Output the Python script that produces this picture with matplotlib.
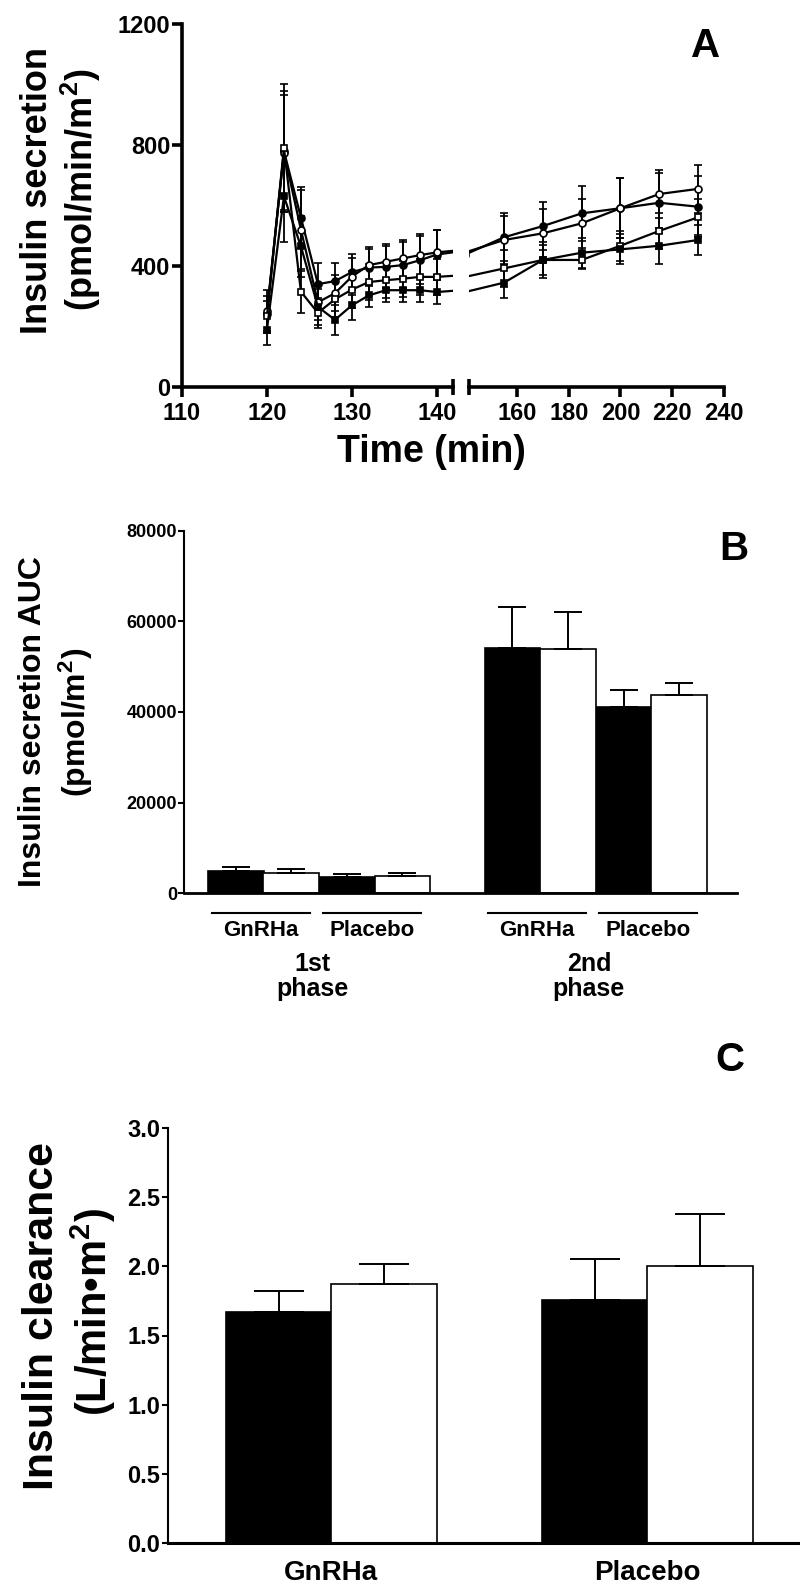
import numpy as np
import matplotlib.pyplot as plt
import matplotlib.transforms as mtransforms

plt.rcParams['font.family'] = ['Liberation Sans', 'DejaVu Sans']
plt.rcParams['font.weight'] = 'bold'
plt.rcParams['mathtext.fontset'] = 'custom'
plt.rcParams['mathtext.rm'] = 'Liberation Sans:bold'
plt.rcParams['mathtext.default'] = 'rm'

# ---- panel A: insulin secretion over time ----
time = [120, 122, 124, 126, 128, 130, 132, 134, 136, 138, 140, 155, 170, 185, 200, 215, 230]
filled_circle = [240, 780, 560, 340, 350, 380, 395, 397, 403, 419, 438, 495, 532, 574, 591, 609, 596]
filled_circle_err = [60, 200, 100, 70, 60, 60, 60, 70, 75, 80, 80, 80, 80, 90, 100, 100, 100]
open_circle = [250, 775, 520, 280, 310, 365, 403, 414, 425, 436, 445, 486, 508, 541, 591, 638, 655]
open_circle_err = [70, 190, 130, 60, 60, 60, 60, 60, 60, 70, 75, 80, 80, 80, 100, 80, 80]
open_square = [235, 790, 315, 245, 290, 322, 347, 353, 358, 364, 364, 392, 420, 420, 467, 516, 561]
open_square_err = [50, 210, 70, 50, 60, 60, 60, 60, 60, 60, 60, 60, 60, 30, 50, 60, 60]
filled_square = [190, 630, 465, 265, 222, 270, 303, 320, 320, 320, 314, 345, 420, 444, 455, 467, 486]
filled_square_err = [50, 150, 100, 60, 50, 50, 40, 40, 40, 40, 40, 50, 50, 50, 50, 60, 50]

# ---- panel B: AUC ----
group_labels = ['GnRHa', 'Placebo', 'GnRHa', 'Placebo']
phase_top = ['1st', '2nd']
phase_bottom = ['phase', 'phase']
auc_black = [4760, 3590, 54100, 41200]
auc_black_err = [880, 590, 9200, 3600]
auc_white = [4400, 3660, 54000, 43700]
auc_white_err = [800, 730, 8100, 2800]

# ---- panel C: clearance ----
clear_labels = ['GnRHa', 'Placebo']
clear_black = [1.67, 1.76]
clear_black_err = [0.15, 0.29]
clear_white = [1.87, 2.00]
clear_white_err = [0.15, 0.38]

W, H = 800, 1593
fig = plt.figure(figsize=(W / 100, H / 100), dpi=100)


def fx(px):
    return px / W


def fy(py):
    return 1 - py / H


# panel A axes (broken x axis)
axA1 = fig.add_axes([fx(182), fy(387), fx(453 - 182), (387 - 24) / H])
axA2 = fig.add_axes([fx(469), fy(387), fx(724 - 469), (387 - 24) / H])

series = [
    (filled_circle, filled_circle_err, 'o', 'black'),
    (open_circle, open_circle_err, 'o', 'white'),
    (open_square, open_square_err, 's', 'white'),
    (filled_square, filled_square_err, 's', 'black'),
]
for ax in (axA1, axA2):
    for vals, err, mk, fc in series:
        ax.errorbar(time, vals, yerr=err, color='black', lw=1.6, marker=mk,
                    markersize=5, markerfacecolor=fc, markeredgecolor='black',
                    markeredgewidth=1.2, elinewidth=1.3, capsize=3, capthick=1.3)
    ax.set_ylim(0, 1200)
    for s in ('top', 'right'):
        ax.spines[s].set_visible(False)
    ax.spines['bottom'].set_linewidth(2.6)
    ax.spines['left'].set_linewidth(2.6)
    ax.tick_params(axis='both', which='major', width=2.6, length=7, labelsize=17)
    ax.tick_params(axis='y', which='major', pad=1.5)
    ax.tick_params(axis='both', which='minor', direction='inout', width=2.6, length=12)

axA1.set_xlim(110, 141.9)
axA1.set_xticks([110, 120, 130, 140])
axA1.set_xticks([141.9], minor=True)
axA1.set_yticks([0, 400, 800, 1200])

axA2.set_xlim(141.45, 240)
axA2.set_xticks([160, 180, 200, 220, 240])
axA2.set_xticks([141.45], minor=True)
axA2.spines['left'].set_visible(False)
axA2.tick_params(axis='y', left=False, labelleft=False)

fig.text(fx(431), fy(452), 'Time (min)', fontsize=27, ha='center', va='center')
fig.text(fx(38), fy(190), 'Insulin secretion', fontsize=26, rotation=90, ha='center', va='center')
fig.text(fx(81), fy(190), '(pmol/min/m$^{2}$)', fontsize=26, rotation=90, ha='center', va='center')
fig.text(fx(706), fy(46), 'A', fontsize=29, ha='center', va='center')

# panel B
axB = fig.add_axes([fx(184), fy(893), fx(553), (893 - 531) / H])
pair_pos = np.array([1.41, 3.38, 6.31, 8.28])
ekw = dict(ecolor='black', elinewidth=1.4, capsize=10, capthick=1.4)
axB.bar(pair_pos - 0.49, auc_black, width=0.985, color='black', edgecolor='black', lw=1.2,
        yerr=[np.zeros(4), auc_black_err], error_kw=ekw)
axB.bar(pair_pos + 0.49, auc_white, width=0.985, color='white', edgecolor='black', lw=1.2,
        yerr=[np.zeros(4), auc_white_err], error_kw=ekw)
axB.set_xlim(0, 9.8)
axB.set_ylim(0, 80000)
axB.set_yticks([0, 20000, 40000, 60000, 80000])
axB.set_xticks([])
for s in ('top', 'right'):
    axB.spines[s].set_visible(False)
axB.spines['left'].set_linewidth(1.5)
axB.spines['bottom'].set_linewidth(2.0)
axB.tick_params(axis='y', width=1.5, length=4, pad=1, labelsize=13)

trB = mtransforms.blended_transform_factory(axB.transData, axB.transAxes)
for p, lab in zip(pair_pos, group_labels):
    axB.plot([p - 0.92, p + 0.82], [-0.055, -0.055], color='black', lw=1.5,
             transform=trB, clip_on=False)
    axB.text(p - 0.05, -0.104, lab, transform=trB, ha='center', va='center', fontsize=16)
for i in range(2):
    xc = pair_pos[2 * i:2 * i + 2].mean() - 0.12
    axB.text(xc, -0.196, phase_top[i], transform=trB, ha='center', va='center', fontsize=18)
    axB.text(xc, -0.265, phase_bottom[i], transform=trB, ha='center', va='center', fontsize=18)

fig.text(fx(33), fy(722), 'Insulin secretion AUC', fontsize=23, rotation=90, ha='center', va='center')
fig.text(fx(76), fy(722), '(pmol/m$^{2}$)', fontsize=23, rotation=90, ha='center', va='center')
fig.text(fx(734), fy(549), 'B', fontsize=29, ha='center', va='center')

# panel C
axC = fig.add_axes([fx(168), fy(1543), fx(632), (1543 - 1128) / H])
cpos = np.array([1.55, 4.55])
ekw = dict(ecolor='black', elinewidth=1.4, capsize=18, capthick=1.4)
axC.bar(cpos - 0.5, clear_black, width=1.0, color='black', edgecolor='black', lw=1.2,
        yerr=[np.zeros(2), clear_black_err], error_kw=ekw)
axC.bar(cpos + 0.5, clear_white, width=1.0, color='white', edgecolor='black', lw=1.2,
        yerr=[np.zeros(2), clear_white_err], error_kw=ekw)
axC.set_xlim(0, 6)
axC.set_ylim(0, 3.0)
ticksC = np.arange(0, 3.01, 0.5)
axC.set_yticks(ticksC)
axC.set_yticklabels([f'{v:.1f}' for v in ticksC])
axC.set_xticks(cpos)
axC.set_xticklabels(clear_labels)
for s in ('top', 'right'):
    axC.spines[s].set_visible(False)
axC.spines['left'].set_linewidth(1.5)
axC.spines['bottom'].set_linewidth(2.2)
axC.tick_params(axis='y', width=1.5, length=4, pad=1.5, labelsize=17)
axC.tick_params(axis='x', length=0, pad=12, labelsize=20)

fig.text(fx(42), fy(1316), 'Insulin clearance', fontsize=31, rotation=90, ha='center', va='center')
fig.text(fx(93), fy(1312), '(L/min\u2022m$^{2}$)', fontsize=30, rotation=90, ha='center', va='center')
fig.text(fx(730), fy(1060), 'C', fontsize=29, ha='center', va='center')

fig.savefig('out.png', dpi=100)
